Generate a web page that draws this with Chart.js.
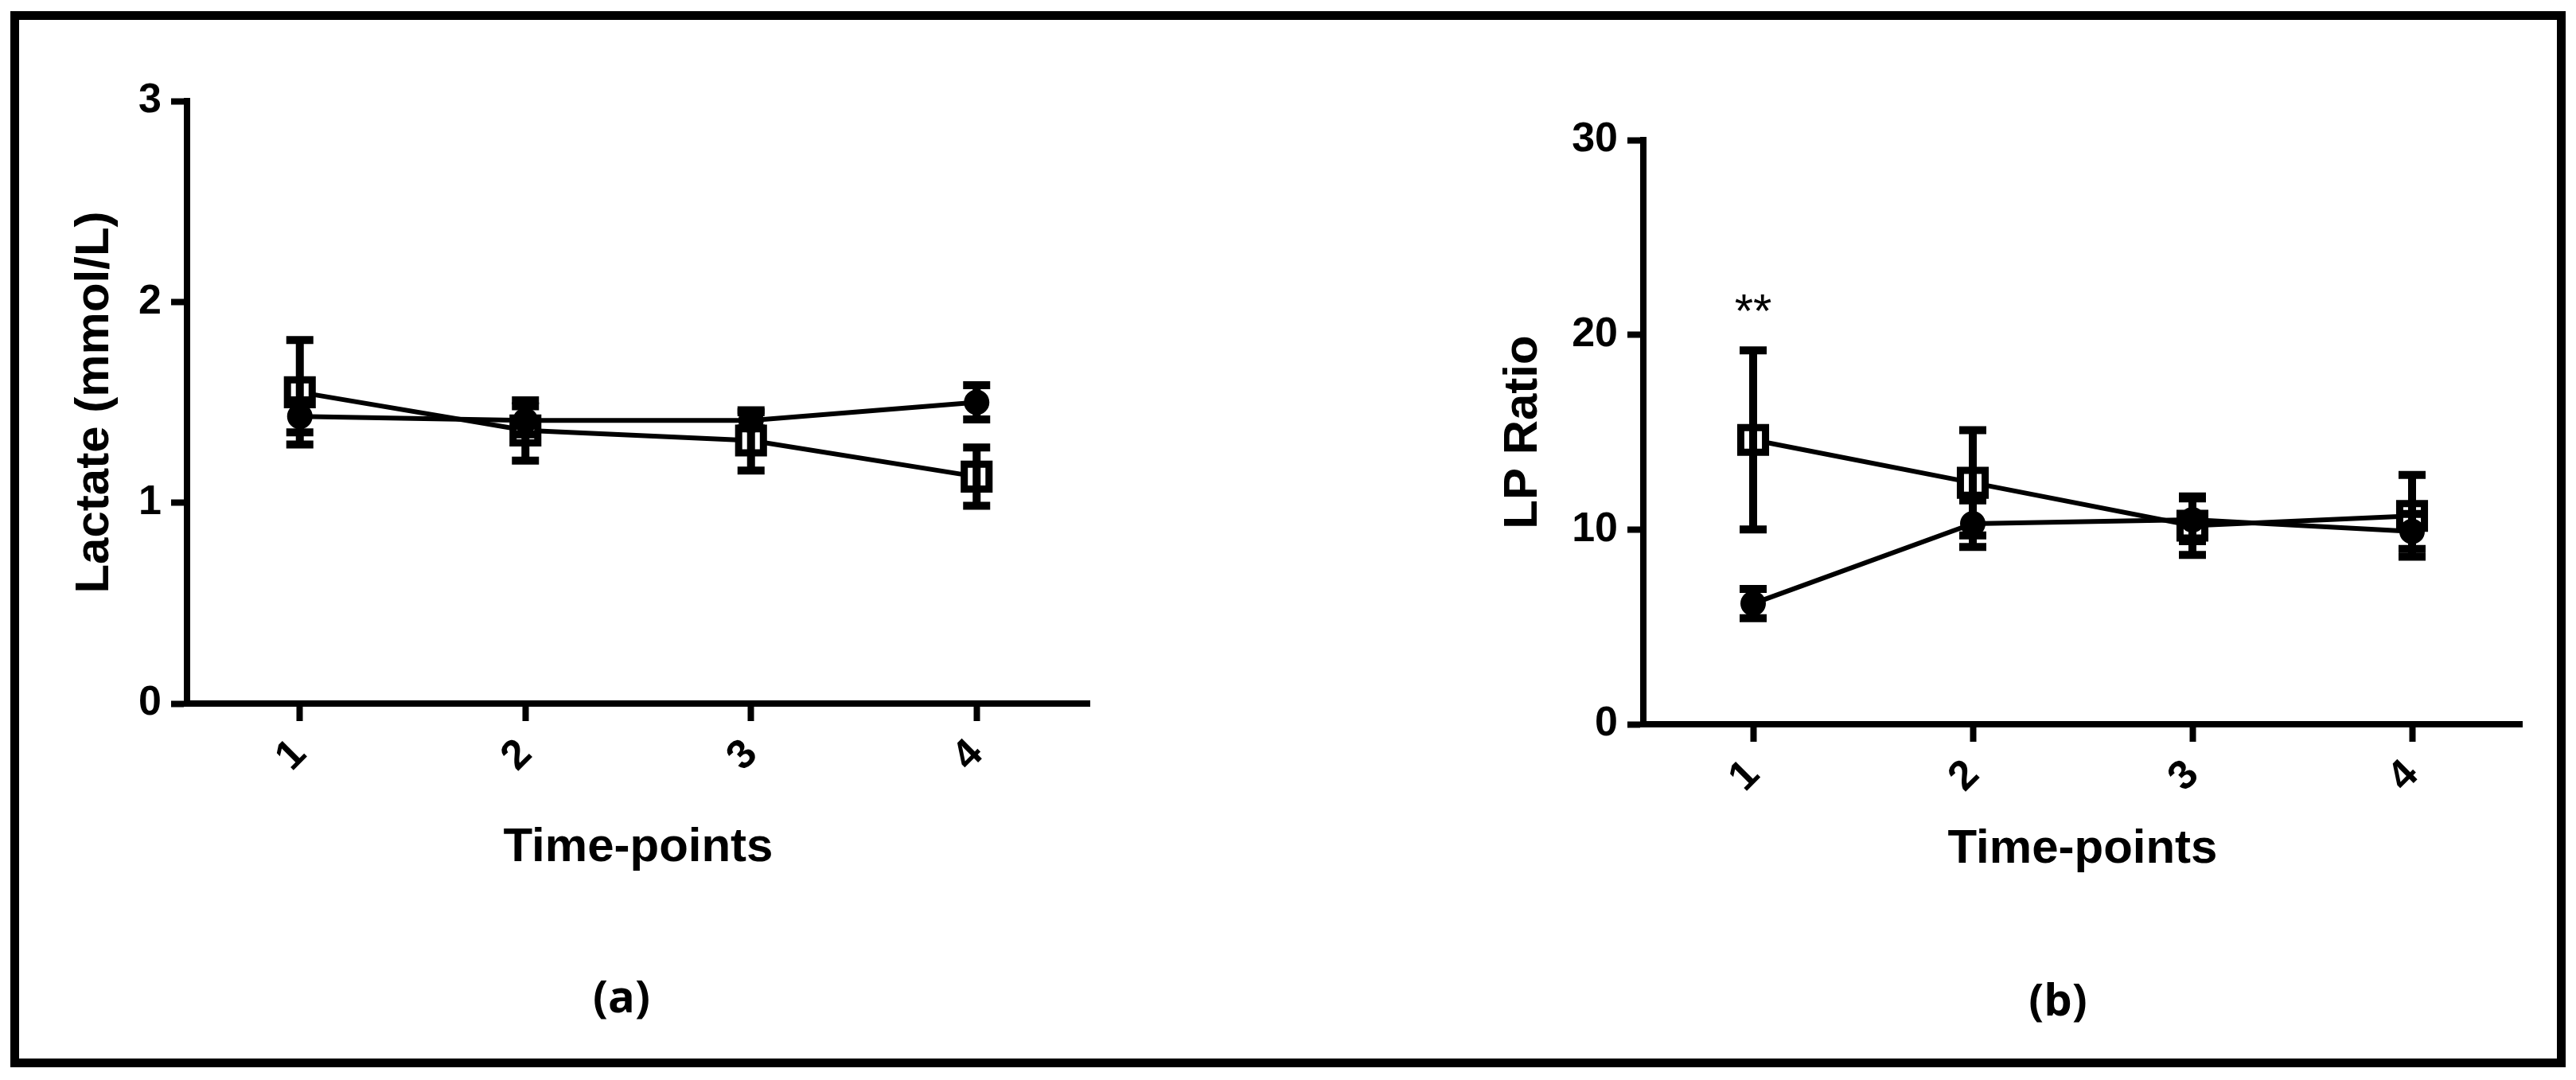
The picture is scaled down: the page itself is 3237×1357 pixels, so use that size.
<!DOCTYPE html>
<html>
<head>
<meta charset="utf-8">
<title>Lactate and LP ratio over time-points</title>
<script src="https://cdn.jsdelivr.net/npm/chart.js@4.4.1/dist/chart.umd.min.js"></script>
<style>
    html, body { margin: 0; padding: 0; background: #fff; }
    body { width: 3237px; height: 1357px; position: relative; overflow: hidden; }
    .frame {
        position: absolute; left: 13px; top: 14px; width: 3211px; height: 1327px;
        border: 11px solid #000; box-sizing: border-box;
    }
    canvas { position: absolute; top: 0; }
    #lactateChart { left: 0; }
    #lpRatioChart { left: 1700px; }
    .panel-label {
        position: absolute; width: 200px; text-align: center;
        font-family: 'Open Sans', sans-serif; font-weight: 700; font-size: 56px;
        line-height: 56px; color: #000;
    }
</style>
</head>
<body>
<div class="frame"></div>
<canvas id="lactateChart" width="1400" height="1095"></canvas>
<canvas id="lpRatioChart" width="1500" height="1097"></canvas>
<div class="panel-label" style="left: 681px; top: 1222px;">(a)</div>
<div class="panel-label" style="left: 2486px; top: 1226px;">(b)</div>
<script>
(function () {
    'use strict';

    var FONT = "'Liberation Sans', Arial, sans-serif";

    var timePoints = ['1', '2', '3', '4'];

    // panel (a): lactate, mmol/L
    var lactateCircleMean = [1.43, 1.41, 1.41, 1.50];
    var lactateCircleErr = [0.08, 0.07, 0.04, 0.085];
    var lactateSquareMean = [1.55, 1.36, 1.31, 1.13];
    var lactateSquareErr = [0.26, 0.15, 0.15, 0.145];
    var lactateTicks = [0, 1, 2, 3];

    // panel (b): lactate / pyruvate ratio
    var lpCircleMean = [6.2, 10.3, 10.5, 9.9];
    var lpCircleErr = [0.75, 1.2, 1.1, 0.9];
    var lpSquareMean = [14.6, 12.4, 10.2, 10.7];
    var lpSquareErr = [4.6, 2.7, 1.5, 2.1];
    var lpTicks = [0, 10, 20, 30];

    // significance mark over time-point 1 in panel (b)
    var lpStarText = ['**'];
    var lpStarIndex = [0];
    var lpStarValue = [20.4];

    Chart.defaults.font.family = FONT;
    Chart.defaults.color = '#000';

    var errorBarPlugin = {
        id: 'errorBars',
        afterDatasetsDraw: function (chart) {
            var ctx = chart.ctx;
            var yScale = chart.scales.y;
            ctx.save();
            ctx.strokeStyle = '#000';
            ctx.lineCap = 'butt';
            chart.data.datasets.forEach(function (ds, di) {
                var meta = chart.getDatasetMeta(di);
                (ds.errors || []).forEach(function (err, i) {
                    var pt = meta.data[i];
                    if (!pt) return;
                    var x = pt.x;
                    var top = yScale.getPixelForValue(ds.data[i] + err);
                    var bot = yScale.getPixelForValue(ds.data[i] - err);
                    ctx.lineWidth = 10;
                    ctx.beginPath();
                    ctx.moveTo(x, top);
                    ctx.lineTo(x, bot);
                    ctx.stroke();
                    ctx.beginPath();
                    ctx.moveTo(x - 17, top);
                    ctx.lineTo(x + 17, top);
                    ctx.moveTo(x - 17, bot);
                    ctx.lineTo(x + 17, bot);
                    ctx.stroke();
                });
            });
            ctx.restore();
        }
    };

    var starPlugin = {
        id: 'stars',
        afterDraw: function (chart, args, opts) {
            if (!opts || !opts.text) return;
            var ctx = chart.ctx;
            ctx.save();
            ctx.fillStyle = '#000';
            ctx.font = '60px ' + FONT;
            ctx.textAlign = 'center';
            ctx.textBaseline = 'alphabetic';
            opts.text.forEach(function (txt, i) {
                var x = chart.scales.x.getPixelForValue(opts.index[i]);
                var y = chart.scales.y.getPixelForValue(opts.value[i]);
                ctx.fillText(txt, x, y);
            });
            ctx.restore();
        }
    };

    function buildChart(canvasId, cfg) {
        return new Chart(document.getElementById(canvasId), {
            type: 'line',
            data: {
                labels: timePoints,
                datasets: [
                    {
                        label: 'circle',
                        data: cfg.circleMean,
                        errors: cfg.circleErr,
                        borderColor: '#000',
                        borderWidth: 6,
                        pointStyle: 'circle',
                        pointRadius: 15,
                        pointBackgroundColor: '#000',
                        pointBorderColor: '#000',
                        pointBorderWidth: 2,
                        tension: 0
                    },
                    {
                        label: 'square',
                        data: cfg.squareMean,
                        errors: cfg.squareErr,
                        borderColor: '#000',
                        borderWidth: 6,
                        pointStyle: 'rect',
                        pointRadius: 22,
                        pointBackgroundColor: '#fff',
                        pointBorderColor: '#000',
                        pointBorderWidth: 9,
                        tension: 0
                    }
                ]
            },
            plugins: [errorBarPlugin, starPlugin],
            options: {
                responsive: false,
                devicePixelRatio: 1,
                animation: false,
                events: [],
                layout: { padding: cfg.padding },
                plugins: {
                    legend: { display: false },
                    tooltip: { enabled: false },
                    stars: cfg.stars || {}
                },
                scales: {
                    x: {
                        type: 'category',
                        offset: true,
                        afterFit: function (scale) { scale.height = cfg.xHeight; },
                        grid: {
                            display: true,
                            drawOnChartArea: false,
                            drawTicks: true,
                            tickLength: 22,
                            tickWidth: 8,
                            tickColor: '#000'
                        },
                        border: { display: true, color: '#000', width: 8 },
                        ticks: {
                            autoSkip: false,
                            minRotation: 45,
                            maxRotation: 45,
                            padding: 15,
                            font: { size: 52, weight: 'bold', lineHeight: 1 },
                            color: '#000'
                        },
                        title: {
                            display: true,
                            text: 'Time-points',
                            padding: 0,
                            font: { size: 60, weight: 'bold', lineHeight: 1 },
                            color: '#000'
                        }
                    },
                    y: {
                        min: cfg.ticks[0],
                        max: cfg.ticks[cfg.ticks.length - 1],
                        afterFit: function (scale) { scale.width = cfg.yWidth; },
                        afterBuildTicks: function (scale) {
                            scale.ticks = cfg.ticks.map(function (v) { return { value: v }; });
                        },
                        grid: {
                            display: true,
                            drawOnChartArea: false,
                            drawTicks: true,
                            tickLength: 20,
                            tickWidth: 8,
                            tickColor: '#000'
                        },
                        border: { display: true, color: '#000', width: 8 },
                        ticks: {
                            padding: 12,
                            font: { size: 52, weight: 'bold', lineHeight: 1 },
                            color: '#000'
                        },
                        title: {
                            display: true,
                            text: cfg.yTitle,
                            padding: 0,
                            font: { size: 60, weight: 'bold', lineHeight: 1 },
                            color: '#000'
                        }
                    }
                }
            }
        });
    }

    buildChart('lactateChart', {
        circleMean: lactateCircleMean,
        circleErr: lactateCircleErr,
        squareMean: lactateSquareMean,
        squareErr: lactateSquareErr,
        ticks: lactateTicks,
        yTitle: 'Lactate (mmol/L)',
        padding: { left: 89, top: 127, right: 28, bottom: 0 },
        yWidth: 146,
        xHeight: 211
    });

    buildChart('lpRatioChart', {
        circleMean: lpCircleMean,
        circleErr: lpCircleErr,
        squareMean: lpSquareMean,
        squareErr: lpSquareErr,
        ticks: lpTicks,
        yTitle: 'LP Ratio',
        padding: { left: 184, top: 176, right: 27, bottom: 0 },
        yWidth: 181,
        xHeight: 187,
        stars: { text: lpStarText, index: lpStarIndex, value: lpStarValue }
    });
})();
</script>
</body>
</html>
